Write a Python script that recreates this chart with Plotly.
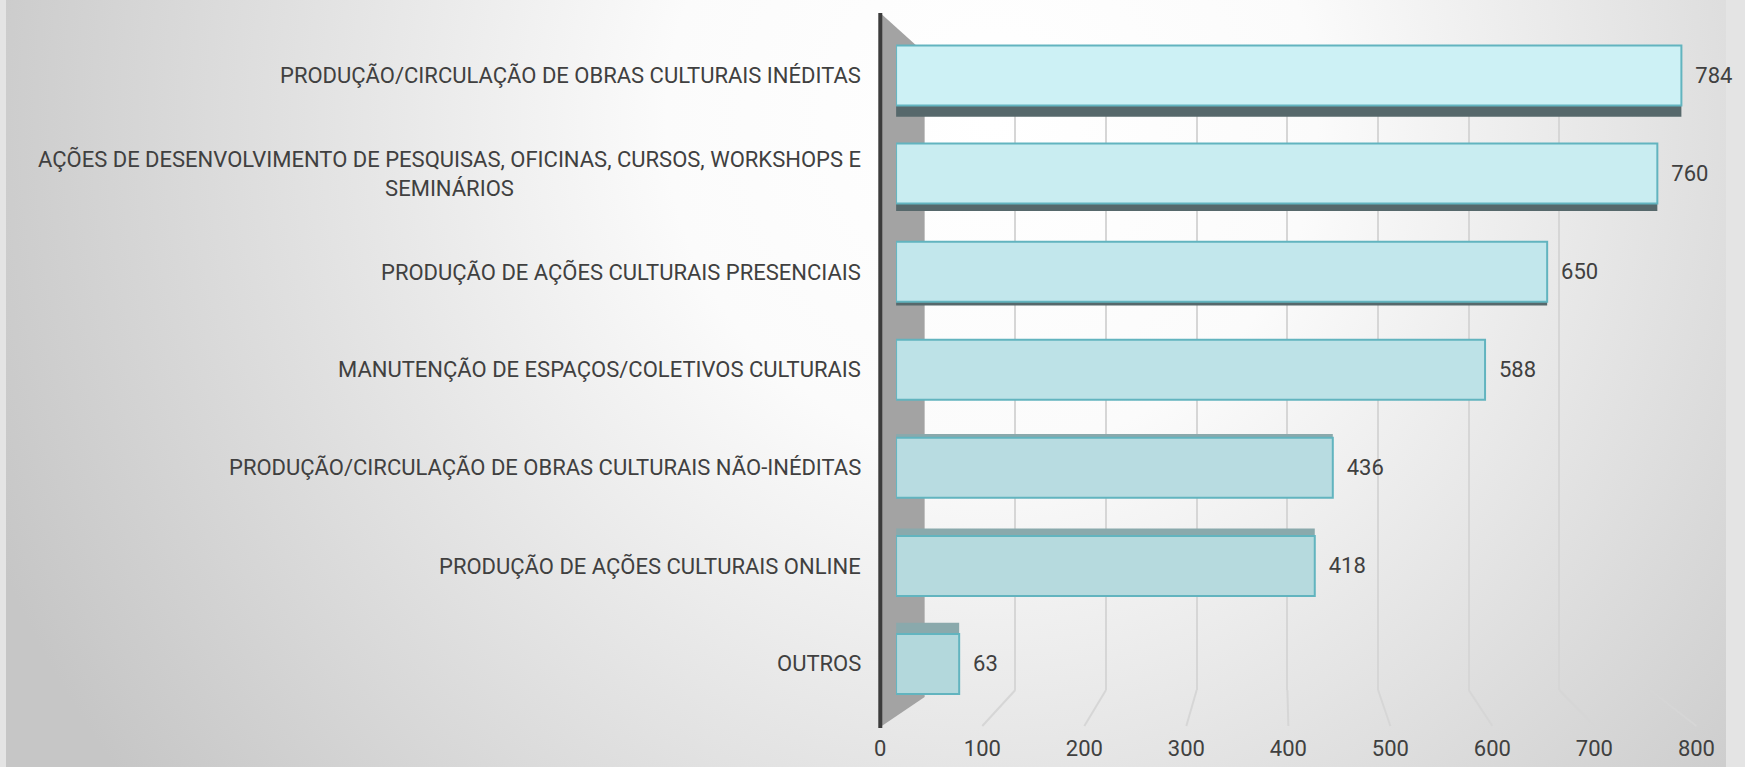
import base64
import plotly.graph_objects as go

# dados (de cima para baixo)
categorias = [
    "PRODUÇÃO/CIRCULAÇÃO DE OBRAS CULTURAIS INÉDITAS",
    "AÇÕES DE DESENVOLVIMENTO DE PESQUISAS, OFICINAS, CURSOS, WORKSHOPS E<br>SEMINÁRIOS",
    "PRODUÇÃO DE AÇÕES CULTURAIS PRESENCIAIS",
    "MANUTENÇÃO DE ESPAÇOS/COLETIVOS CULTURAIS",
    "PRODUÇÃO/CIRCULAÇÃO DE OBRAS CULTURAIS NÃO-INÉDITAS",
    "PRODUÇÃO DE AÇÕES CULTURAIS ONLINE",
    "OUTROS",
]
valores = [784, 760, 650, 588, 436, 418, 63]
ticks_x = [0, 100, 200, 300, 400, 500, 600, 700, 800]

W, H = 1745, 767
FONT = "Roboto, Liberation Sans, sans-serif"
TXT = "#404040"
BAR_W = 0.612
DX = 7  # ajuste horizontal geral


def px_x(p):
    return (p + DX) / W


def px_y(p):
    return 1 - p / H


# fundo com gradiente radial (estilo Excel)
svg = (
    "<svg xmlns='http://www.w3.org/2000/svg' width='1745' height='767'>"
    "<defs><radialGradient id='g' cx='1000' cy='120' r='1100' gradientUnits='userSpaceOnUse'>"
    "<stop offset='0' stop-color='#ffffff'/><stop offset='0.3' stop-color='#fbfbfb'/>"
    "<stop offset='1' stop-color='#c6c6c6'/></radialGradient></defs>"
    "<rect width='1745' height='767' fill='url(#g)'/></svg>"
)
bg_src = "data:image/svg+xml;base64," + base64.b64encode(svg.encode()).decode()

n = len(categorias)
idx = list(range(n))
# cores da face frontal (mais clara em cima, como a iluminação do original)
cores_frente = ["#cdf1f5", "#c9edf1", "#c2e7ec", "#bde2e7", "#b8dce1", "#b6dade", "#b3d8dc"]
# faces de profundidade (perspectiva)
offs = [-BAR_W / 2 + (3 - i) * 0.038 for i in idx]
cores_prof = ["#56686b" if i < 3 else "#8aa9ac" for i in idx]

fig = go.Figure()

# eixo de fundo: só as linhas de grade
fig.add_trace(go.Scatter(x=[0, 800], y=[0, 1], mode="markers", marker=dict(opacity=0),
                         hoverinfo="skip", showlegend=False, xaxis="x", yaxis="y"))

# barras
fig.add_trace(go.Bar(
    x=valores, y=idx, orientation="h", width=BAR_W, offset=offs,
    marker=dict(color=cores_prof, line=dict(width=0)),
    hoverinfo="skip", showlegend=False, xaxis="x2", yaxis="y2",
))
fig.add_trace(go.Bar(
    x=valores, y=idx, orientation="h", width=BAR_W,
    marker=dict(color=cores_frente, line=dict(width=2, color="#62b4bf")),
    text=["\u00a0\u00a0" + str(v) for v in valores], textposition="outside",
    textfont=dict(family=FONT, size=22, color=TXT),
    cliponaxis=False, showlegend=False, xaxis="x2", yaxis="y2",
))

# eixo dos rótulos (piso frontal)
fig.add_trace(go.Scatter(x=[0, 800], y=[0, 0], mode="markers", marker=dict(opacity=0),
                         hoverinfo="skip", showlegend=False, xaxis="x3", yaxis="y"))

# parede lateral
wall = "M {} {} L {} {} L {} {} L {} {} Z".format(
    px_x(880), px_y(13), px_x(925), px_y(53), px_x(925), px_y(697), px_x(880), px_y(727))
shapes = [
    dict(type="path", path=wall, xref="paper", yref="paper", layer="below",
         fillcolor="#a3a3a3", line=dict(width=0)),
    dict(type="line", xref="paper", yref="paper", layer="below",
         x0=px_x(880), x1=px_x(880), y0=px_y(13), y1=px_y(728),
         line=dict(color="#3c3c3c", width=4)),
]
# linhas do piso (do fundo até a frente)
for v in ticks_x[1:]:
    shapes.append(dict(type="line", xref="paper", yref="paper", layer="below",
                       x0=px_x(925 + 0.92 * v), y0=px_y(690),
                       x1=px_x(880 + 1.035 * v), y1=px_y(726),
                       line=dict(color="#d6d6d6", width=2)))

annotations = [
    dict(x=px_x(862), xref="paper", xanchor="right", y=i, yref="y2", yanchor="middle",
         text=c, align="center", showarrow=False,
         font=dict(family=FONT, size=22, color=TXT))
    for i, c in zip(idx, categorias)
]

fig.update_layout(
    width=W, height=H,
    margin=dict(l=0, r=0, t=0, b=0),
    paper_bgcolor="#e4e4e4",
    plot_bgcolor="rgba(0,0,0,0)",
    barmode="overlay",
    images=[dict(source=bg_src, xref="paper", yref="paper", x=0, y=1, sizex=1, sizey=1,
                 sizing="stretch", xanchor="left", yanchor="top", layer="below")],
    shapes=shapes,
    annotations=annotations,
    xaxis=dict(domain=[px_x(925), px_x(1661)], range=[0, 800], anchor="y",
               tickmode="array", tickvals=ticks_x[1:], showticklabels=False,
               showgrid=True, gridcolor="#d6d6d6", gridwidth=2, zeroline=False,
               showline=False, fixedrange=True),
    yaxis=dict(domain=[px_y(690), px_y(50)], range=[0, 1], anchor="x",
               showgrid=False, zeroline=False, showticklabels=False, showline=False),
    xaxis2=dict(domain=[px_x(896), px_x(1709)], range=[0, 800], anchor="y2",
                showgrid=False, zeroline=False, showticklabels=False, showline=False),
    yaxis2=dict(domain=[px_y(713), px_y(26.5)], range=[n - 0.5, -0.5], anchor="x2",
                showgrid=False, zeroline=False, showticklabels=False, showline=False),
    xaxis3=dict(domain=[px_x(880), px_x(1708)], range=[0, 800], anchor="free",
                position=px_y(733), tickmode="array", tickvals=ticks_x,
                showgrid=False, zeroline=False, showline=False, ticks="",
                tickfont=dict(family=FONT, size=22, color=TXT)),
)

# sem margem do body para a figura ocupar a janela inteira; fundo cinza por baixo
page_js = (
    "document.documentElement.style.margin='0';"
    "document.documentElement.style.background='#cdcdcd';"
    "document.body.style.margin='0';"
    "document.body.style.background='#cdcdcd';"
)
fig.write_html("out.html", config={"displayModeBar": False}, post_script=page_js)
